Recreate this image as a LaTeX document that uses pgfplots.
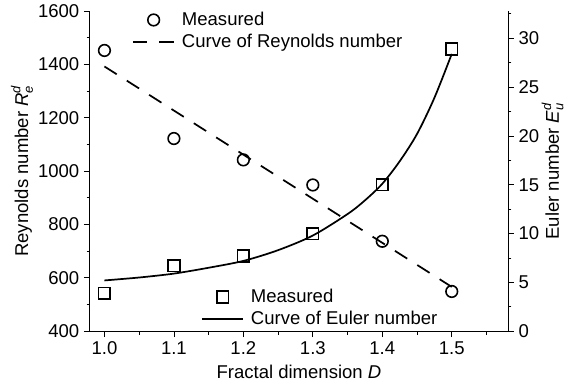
\documentclass[border=0pt]{standalone}
\usepackage{amsmath}
\usepackage{fontspec}
\setmainfont{Liberation Sans}
\usepackage{pgfplots}
\pgfplotsset{compat=1.18}
\begin{document}
\begin{tikzpicture}
\pgfplotsset{
  every axis/.append style={
    scale only axis,
    width=316pt, height=242pt,
    xmin=0.979, xmax=1.581,
    tick align=outside,
    tick style={black, line width=0.6pt},
    major tick length=4.5pt, minor tick length=2.5pt,
    axis line style={black, line width=0.7pt},
    font=\fontsize{14}{16.5}\selectfont,
    /pgf/number format/assume math mode=true,
    legend cell align=left,
    xlabel style={yshift=-1pt},
  },
  mylegline/.style={legend image code/.code={
      \draw[##1, line width=1.3pt] (0pt,0pt) -- (31.5pt,0pt);}},
  mylegmark/.style={legend image code/.code={
      \draw[##1, line width=1.2pt, mark repeat=2, mark phase=2] plot coordinates {(0pt,0pt) (15.75pt,0pt) (31.5pt,0pt)};}},
}
\begin{axis}[
  axis y line*=left, axis x line*=bottom,
  ymin=400, ymax=1600,
  ytick={400,600,...,1600}, minor ytick={500,700,...,1500},
  xtick={1.0,1.1,1.2,1.3,1.4,1.5},
  minor xtick={1.05,1.15,1.25,1.35,1.45,1.55},
  xticklabel style={/pgf/number format/.cd, fixed, fixed zerofill, precision=1},
  yticklabel style={/pgf/number format/.cd, 1000 sep={}},
  xlabel={Fractal dimension \textit{D}},
  ylabel={Reynolds number $\textit{R}_{\textit{e}}^{\textit{d}}$},
  ylabel style={yshift=-3pt},
  legend style={draw=none, fill=none, at={(0.10,1.005)}, anchor=north west,
    font=\fontsize{14}{16.5}\selectfont, row sep=1pt, inner sep=0pt,
    /tikz/every odd column/.append style={column sep=3pt}},
]
\addplot[only marks, mark=o, mark size=4.4pt, line width=1.2pt, mylegmark] coordinates {
  (1.0,1452) (1.1,1122) (1.2,1042) (1.3,948) (1.4,737) (1.5,549)};
\addlegendentry{Measured}
\addplot[line width=1.3pt, dash pattern=on 11pt off 9pt, mylegline] coordinates {
  (1.0,1392) (1.5,566)};
\addlegendentry{Curve of Reynolds number}
\end{axis}
\begin{axis}[
  axis y line*=right, axis x line=none,
  ymin=0, ymax=32.8,
  ytick={0,5,...,30}, minor ytick={2.5,7.5,...,32.5},
  ylabel={Euler number $\textit{E}_{\textit{u}}^{\textit{d}}$},
  ylabel style={yshift=5pt},
  legend style={draw=none, fill=none, at={(0.265,0.005)}, anchor=south west,
    font=\fontsize{14}{16.5}\selectfont, row sep=1pt, inner sep=0pt,
    /tikz/every odd column/.append style={column sep=3pt}},
]
\addplot[only marks, mark=square, mark size=4.4pt, line width=1.2pt, mylegmark] coordinates {
  (1.0,3.9) (1.1,6.7) (1.2,7.7) (1.3,10.0) (1.4,15.0) (1.5,28.9)};
\addlegendentry{Measured}
\addplot[line width=1.3pt, smooth, tension=0.5, mylegline] coordinates {
  (1.0,5.2) (1.05,5.5) (1.1,5.9) (1.15,6.5) (1.2,7.2) (1.25,8.3) (1.3,9.8)
  (1.35,12.0) (1.375,13.4) (1.4,15.1) (1.425,17.4) (1.45,20.2) (1.475,23.9) (1.5,28.4)};
\addlegendentry{Curve of Euler number}
\end{axis}
\path ([xshift=-5pt]current bounding box.west) -- (current bounding box.center);
\end{tikzpicture}
\end{document}
